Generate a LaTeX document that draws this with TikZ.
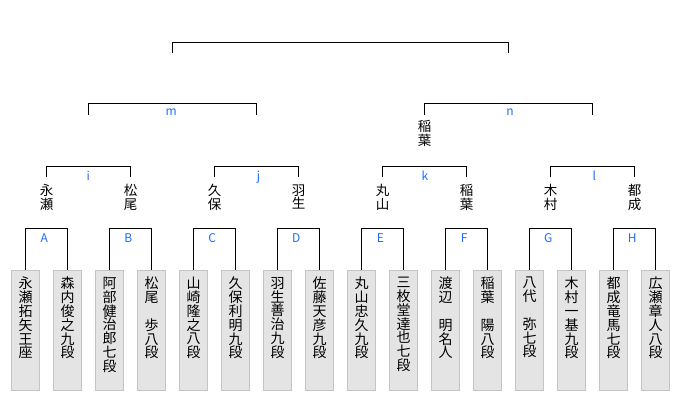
\documentclass[tikz,border=0pt]{standalone}
\usepackage{fontspec}
\setmainfont{Noto Sans CJK JP}
\newfontfamily\cjk{Noto Sans CJK JP}
\definecolor{lblblue}{HTML}{1A6BFF}
\definecolor{boxfill}{HTML}{E4E4E4}
\definecolor{boxline}{HTML}{C4C4C4}
\begin{document}
\setlength{\lineskiplimit}{-20pt}
\begin{tikzpicture}[x=1pt,y=-1pt,line width=1pt,
  player/.style={draw=boxline,fill=boxfill,minimum width=28pt,minimum height=120.5pt,inner sep=0pt,line width=0.8pt},
  ptext/.style={anchor=north,inner sep=0pt,align=center,font=\cjk\fontsize{14}{13.8}\selectfont},
  wname/.style={anchor=north,inner sep=0pt,align=center,font=\cjk\fontsize{13.5}{13.6}\selectfont},
  lbl/.style={anchor=base,text=lblblue,inner sep=0pt,font=\cjk\fontsize{12}{12}\selectfont},
  bracket/.style={draw=black,line width=1pt}]
\useasboundingbox (0,0) rectangle (680,400);

% player boxes
\foreach \k/\txt in {
  0/{永\\瀬\\拓\\矢\\王\\座},
  1/{森\\内\\俊\\之\\九\\段},
  2/{阿\\部\\健\\治\\郎\\七\\段},
  3/{松\\尾\\\mbox{}\\歩\\八\\段},
  4/{山\\崎\\隆\\之\\八\\段},
  5/{久\\保\\利\\明\\九\\段},
  6/{羽\\生\\善\\治\\九\\段},
  7/{佐\\藤\\天\\彦\\九\\段},
  8/{丸\\山\\忠\\久\\九\\段},
  9/{三\\枚\\堂\\達\\也\\七\\段},
  10/{渡\\辺\\\mbox{}\\明\\名\\人},
  11/{稲\\葉\\\mbox{}\\陽\\八\\段},
  12/{八\\代\\\mbox{}\\弥\\七\\段},
  13/{木\\村\\一\\基\\九\\段},
  14/{都\\成\\竜\\馬\\七\\段},
  15/{広\\瀬\\章\\人\\八\\段}} {
  \pgfmathsetmacro{\cx}{25.7+42*\k}
  \node[player] (P\k) at (\cx,330.4) {};
  \node[ptext] (T\k) at (\cx,276.7) {\txt};
}

% first-round brackets A-H
\foreach \p/\L in {0/A,1/B,2/C,3/D,4/E,5/F,6/G,7/H} {
  \pgfmathtruncatemacro{\a}{2*\p}
  \pgfmathtruncatemacro{\b}{2*\p+1}
  \pgfmathsetmacro{\mx}{46.7+84*\p-2.4}
  \draw[bracket] (P\a.north) -- ++(0,-41.7) -| (P\b.north);
  \node[lbl] (L\L) at (\mx,242.7) {\L};
}

% second-round brackets i-l with winners' names
\foreach \q/\L/\lx/\na/\nb in {0/i/88.3/{永\\瀬}/{松\\尾},1/j/258.5/{久\\保}/{羽\\生},2/k/425/{丸\\山}/{稲\\葉},3/l/594.3/{木\\村}/{都\\成}} {
  \pgfmathsetmacro{\xa}{46.7+168*\q}
  \pgfmathsetmacro{\xb}{130.7+168*\q}
  \coordinate (S\L a) at (\xa,177.3);
  \coordinate (S\L b) at (\xb,177.3);
  \draw[bracket] (S\L a) -- ++(0,-11) -| (S\L b);
  \node[lbl] (L\L) at (\lx,180) {\L};
  \node[wname] (N\L a) at (\xa,184) {\na};
  \node[wname] (N\L b) at (\xb,184) {\nb};
}

% semifinal brackets m, n
\coordinate (Sma) at (88.7,114.7);
\coordinate (Smb) at (256.7,114.7);
\coordinate (Sna) at (424.7,114.7);
\coordinate (Snb) at (592.7,114.7);
\draw[bracket] (Sma) -- ++(0,-11.7) -| (Smb);
\draw[bracket] (Sna) -- ++(0,-11.7) -| (Snb);
\node[lbl] (Lm) at (171.3,115) {m};
\node[lbl] (Ln) at (510,115) {n};
\node[wname] (Nna) at (424.7,120) {稲\\葉};

% final bracket
\coordinate (Fa) at (172.7,53.3);
\coordinate (Fb) at (508.7,53.3);
\draw[bracket] (Fa) -- ++(0,-11) -| (Fb);
\end{tikzpicture}
\end{document}
